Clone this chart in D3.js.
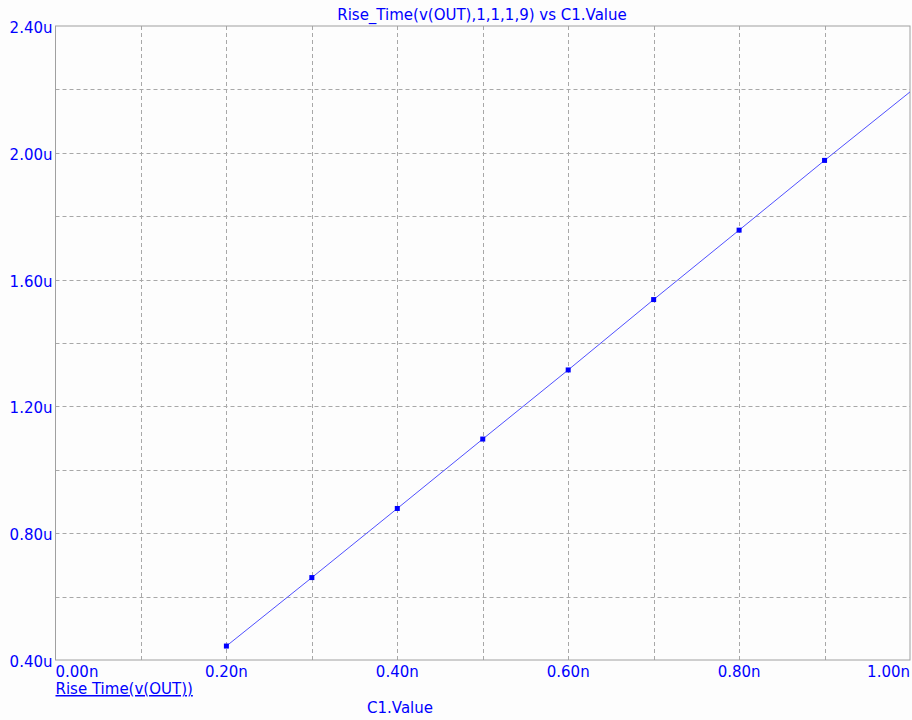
<!DOCTYPE html>
<html>
<head>
<meta charset="utf-8">
<script src="https://cdn.jsdelivr.net/npm/d3@7"></script>
<style>
  body { margin: 0; background: #fdfdfd; }
  svg text { font-family: "DejaVu Sans", "Liberation Sans", Arial, sans-serif; fill: #0000ff; }
</style>
</head>
<body>
<div id="chart"></div>
<script>
const width = 912;
const height = 720;

// C1 value (nF) vs rise time (uS)
const capValues = [0.2, 0.3, 0.4, 0.5, 0.6, 0.7, 0.8, 0.9, 1.0];
const riseTimes = [0.444, 0.660, 0.878, 1.097, 1.315, 1.537, 1.756, 1.976, 2.192];
const xTicks = [0, 0.1, 0.2, 0.3, 0.4, 0.5, 0.6, 0.7, 0.8, 0.9, 1.0];
const yTicks = [0.4, 0.6, 0.8, 1.0, 1.2, 1.4, 1.6, 1.8, 2.0, 2.2, 2.4];

const title = "Rise_Time(v(OUT),1,1,1,9) vs C1.Value";
const traceName = "Rise Time(v(OUT))";
const xLabel = "C1.Value";

const margin = { top: 26, right: 2, bottom: 60, left: 55.5 };

const x = d3.scaleLinear().domain([0, 1.0]).range([margin.left, width - margin.right]);
const y = d3.scaleLinear().domain([0.4, 2.4]).range([height - margin.bottom, margin.top]);

const svg = d3.select("#chart").append("svg")
    .attr("width", width)
    .attr("height", height);

svg.append("rect").attr("width", width).attr("height", height).attr("fill", "#fdfdfd");

// grid lines (dashed)
const grid = svg.append("g")
    .attr("stroke", "#a8a8a8")
    .attr("stroke-width", 1)
    .attr("stroke-dasharray", "4,3");

grid.selectAll("line.vx")
    .data(xTicks.slice(1, -1))
    .join("line")
    .attr("x1", d => Math.round(x(d)) + 0.5)
    .attr("x2", d => Math.round(x(d)) + 0.5)
    .attr("y1", y(2.4))
    .attr("y2", y(0.4));

grid.selectAll("line.hy")
    .data(yTicks.slice(1, -1))
    .join("line")
    .attr("y1", d => Math.round(y(d)) + 0.5)
    .attr("y2", d => Math.round(y(d)) + 0.5)
    .attr("x1", x(0))
    .attr("x2", x(1.0));

// frame
svg.append("rect")
    .attr("x", x(0))
    .attr("y", y(2.4))
    .attr("width", x(1.0) - x(0))
    .attr("height", y(0.4) - y(2.4))
    .attr("fill", "none")
    .attr("stroke", "#a0a0a0")
    .attr("stroke-width", 1);

const fmtY = d => d.toFixed(2) + "u";
const fmtX = d => d.toFixed(2) + "n";

// y tick labels
svg.append("g").selectAll("text")
    .data(yTicks.filter((d, i) => i % 2 === 0))
    .join("text")
    .attr("x", x(0) - 3)
    .attr("y", d => y(d) + 7)
    .attr("text-anchor", "end")
    .style("font-size", "15px")
    .text(fmtY);

// x tick labels
const xl = xTicks.filter((d, i) => i % 2 === 0);
svg.append("g").selectAll("text")
    .data(xl)
    .join("text")
    .attr("x", d => x(d))
    .attr("y", y(0.4) + 17)
    .attr("text-anchor", (d, i) => i === 0 ? "start" : (i === xl.length - 1 ? "end" : "middle"))
    .style("font-size", "15px")
    .text(fmtX);

// trace
const pts = capValues.map((c, i) => ({ c, t: riseTimes[i] }));
const line = d3.line().x(d => x(d.c)).y(d => y(d.t));

svg.append("path")
    .datum(pts)
    .attr("fill", "none")
    .attr("stroke", "#5050ff")
    .attr("stroke-width", 1)
    .attr("d", line);

svg.append("g").selectAll("rect")
    .data(pts.filter(d => d.c < 1.0))
    .join("rect")
    .attr("x", d => x(d.c) - 2.5)
    .attr("y", d => y(d.t) - 2.5)
    .attr("width", 5)
    .attr("height", 5)
    .attr("fill", "#0000ff");

// title
svg.append("text")
    .attr("x", 482)
    .attr("y", 20)
    .attr("text-anchor", "middle")
    .style("font-size", "15px")
    .text(title);

// trace legend (underlined)
svg.append("text")
    .attr("x", x(0))
    .attr("y", 694)
    .style("font-size", "15px")
    .style("text-decoration", "underline")
    .text(traceName);

// x axis label
svg.append("text")
    .attr("x", 400)
    .attr("y", 713)
    .attr("text-anchor", "middle")
    .style("font-size", "15px")
    .text(xLabel);
</script>
</body>
</html>
